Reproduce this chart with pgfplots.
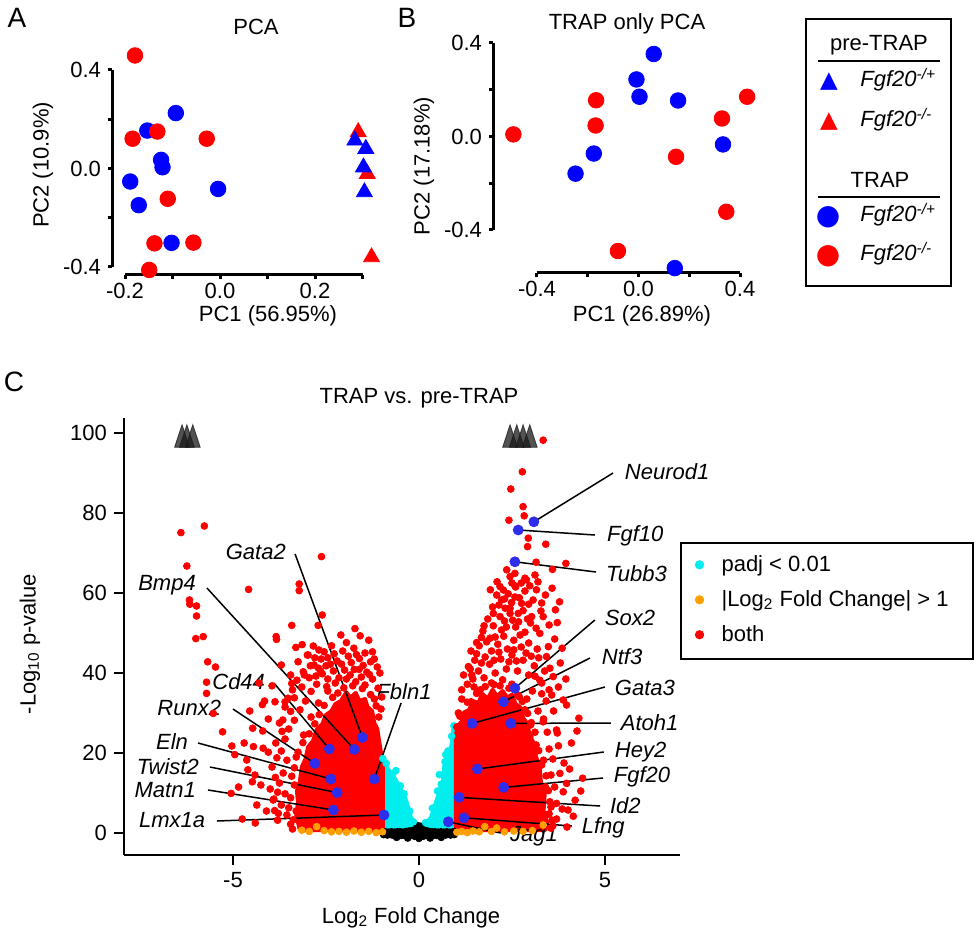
\documentclass[border=0pt]{standalone}
\usepackage{pgfplots}
\pgfplotsset{compat=1.18}
\usepackage{fontspec}
\setmainfont{Liberation Sans}
\newfontfamily\dejavu{DejaVu Sans}
\definecolor{mred}{RGB}{255,0,0}
\definecolor{mblue}{RGB}{0,0,255}
\definecolor{vblue}{RGB}{45,45,235}
\definecolor{mcyan}{RGB}{0,238,238}
\definecolor{morange}{RGB}{255,160,0}
\newcommand\fs{\fontsize{11}{13}\selectfont}
\pgfplotsset{axl/.style={black, line width=1.5pt, no marks, forget plot}}
\begin{document}
\begin{tikzpicture}
\path[use as bounding box] (0pt,0pt) rectangle (488.5pt,-470pt);

% ---------------- Panel A ----------------
\begin{axis}[at={(56pt,-137.5pt)}, anchor=south west, scale only axis,
  width=125.25pt, height=102.5pt,
  xmin=-0.22737, xmax=0.3, ymin=-0.43252, ymax=0.4,
  axis lines*=left, axis line style={draw=none},
  xtick={-0.2,0,0.2}, xticklabels={-0.2,0.0,0.2},
  ytick={-0.4,0,0.4}, yticklabels={-0.4,0.0,0.4},
  tick align=outside, major tick length=2pt, tick style={draw=none},
  tick label style={font=\fs}, xticklabel style={inner sep=2pt}, clip=false]
% axis lines and ticks
\addplot[axl] coordinates {(-0.22737,-0.4) (-0.22737,0.4)};
\addplot[axl] coordinates {(-0.2,-0.43252) (0.3,-0.43252)};
\addplot[axl] coordinates {(-0.22737,-0.4) (-0.2358,-0.4)};
\addplot[axl] coordinates {(-0.22737,-0.2) (-0.2358,-0.2)};
\addplot[axl] coordinates {(-0.22737,0) (-0.2358,0)};
\addplot[axl] coordinates {(-0.22737,0.2) (-0.2358,0.2)};
\addplot[axl] coordinates {(-0.22737,0.4) (-0.2358,0.4)};
\addplot[axl] coordinates {(-0.2,-0.43252) (-0.2,-0.4488)};
\addplot[axl] coordinates {(-0.1,-0.43252) (-0.1,-0.4488)};
\addplot[axl] coordinates {(0,-0.43252) (0,-0.4488)};
\addplot[axl] coordinates {(0.1,-0.43252) (0.1,-0.4488)};
\addplot[axl] coordinates {(0.2,-0.43252) (0.2,-0.4488)};
\addplot[axl] coordinates {(0.3,-0.43252) (0.3,-0.4488)};
% data
\addplot[only marks, mark=*, mark size=3.9pt, color=mblue] coordinates {
(-0.093,0.225) (-0.153,0.154) (-0.124,0.035) (-0.121,0.005) (-0.189,-0.053) (-0.171,-0.149) (-0.004,-0.083) (-0.102,-0.302)};
\addplot[only marks, mark=*, mark size=3.9pt, color=mred] coordinates {
(-0.179,0.459) (-0.184,0.121) (-0.132,0.150) (-0.028,0.121) (-0.110,-0.123) (-0.138,-0.304) (-0.056,-0.301) (-0.149,-0.412)};
\addplot[only marks, mark=triangle*, mark size=4.6pt, color=mred] coordinates {
(0.291,0.148) (0.310,-0.022) (0.319,-0.360)};
\addplot[only marks, mark=triangle*, mark size=4.6pt, color=mblue] coordinates {
(0.284,0.114) (0.307,0.080) (0.302,0.005) (0.304,-0.096)};
\end{axis}

% ---------------- Panel B ----------------
\begin{axis}[at={(246.5pt,-136.5pt)}, anchor=south west, scale only axis,
  width=123.5pt, height=115pt,
  xmin=-0.57323, xmax=0.4, ymin=-0.58396, ymax=0.4,
  axis lines*=left, axis line style={draw=none},
  xtick={-0.4,0,0.4}, xticklabels={-0.4,0.0,0.4},
  ytick={-0.4,0,0.4}, yticklabels={-0.4,0.0,0.4},
  tick align=outside, major tick length=2pt, tick style={draw=none},
  tick label style={font=\fs}, xticklabel style={inner sep=2pt}, clip=false]
\addplot[axl] coordinates {(-0.57323,-0.4) (-0.57323,0.4)};
\addplot[axl] coordinates {(-0.4,-0.58396) (0.4,-0.58396)};
\addplot[axl] coordinates {(-0.57323,-0.4) (-0.589,-0.4)};
\addplot[axl] coordinates {(-0.57323,-0.2) (-0.589,-0.2)};
\addplot[axl] coordinates {(-0.57323,0) (-0.589,0)};
\addplot[axl] coordinates {(-0.57323,0.2) (-0.589,0.2)};
\addplot[axl] coordinates {(-0.57323,0.4) (-0.589,0.4)};
\addplot[axl] coordinates {(-0.4,-0.58396) (-0.4,-0.6011)};
\addplot[axl] coordinates {(-0.2,-0.58396) (-0.2,-0.6011)};
\addplot[axl] coordinates {(0,-0.58396) (0,-0.6011)};
\addplot[axl] coordinates {(0.2,-0.58396) (0.2,-0.6011)};
\addplot[axl] coordinates {(0.4,-0.58396) (0.4,-0.6011)};
\addplot[only marks, mark=*, mark size=3.9pt, color=mblue] coordinates {
(0.060,0.353) (-0.008,0.244) (0.004,0.170) (0.156,0.154) (0.333,-0.034) (-0.176,-0.073) (-0.248,-0.159) (0.143,-0.563)};
\addplot[only marks, mark=*, mark size=3.9pt, color=mred] coordinates {
(-0.493,0.009) (-0.167,0.155) (-0.169,0.047) (0.148,-0.087) (0.329,0.077) (0.346,-0.322) (-0.081,-0.490) (0.428,0.170)};
\end{axis}

% ---------------- Panel C ----------------
\begin{axis}[at={(62pt,-427.5pt)}, anchor=south west, scale only axis,
  width=278pt, height=218.5pt,
  xmin=-7.93, xmax=7.02, ymin=-5.5, ymax=103.75,
  axis lines*=left, axis line style={line width=0.9pt},
  tick style={black,line width=0.9pt}, tick align=outside, major tick length=5pt,
  xtick={-5,0,5}, xticklabels={-5,0,5},
  ytick={0,20,40,60,80,100}, yticklabels={0,20,40,60,80,100},
  tick label style={font=\fs}, clip=false,
  legend style={at={(1.002,0.714)}, anchor=north west, draw=none, fill=none,
    font=\fs, row sep=4pt, inner xsep=2pt, inner ysep=4pt},
  legend image code/.code={\path[draw=none,fill=none] (0pt,0pt) -- (16pt,0pt); \draw[#1] plot coordinates {(7pt,0pt)};},
  legend cell align=left]
\addlegendimage{only marks, mark=*, mark size=2.1pt, color=mcyan}
\addlegendentry{padj < 0.01}
\addlegendimage{only marks, mark=*, mark size=2.1pt, color=morange}
\addlegendentry{|Log\textsubscript{2} Fold Change| > 1}
\addlegendimage{only marks, mark=*, mark size=2.1pt, color=mred}
\addlegendentry{both}

% black (not significant)
\addplot[only marks, mark=*, mark size=1.7pt, color=black, forget plot] coordinates {
(-0.98,0.3) (-0.9,0.3) (-0.82,0.2) (-0.74,0.3) (-0.66,0.2) (-0.58,0.3) (-0.5,0.3) (-0.42,0.2) (-0.34,0.4) (-0.26,0.5) (-0.18,0.6) (-0.1,0.8) (-0.03,1.0) (0.04,0.9) (0.11,0.7) (0.19,0.6) (0.27,0.4) (0.35,0.3) (0.43,0.3) (0.51,0.2) (0.59,0.3) (0.67,0.2) (0.75,0.3) (0.83,0.2) (0.91,0.3) (0.98,0.3)
(-0.95,-0.4) (-0.85,-0.5) (-0.72,-0.5) (-0.6,-0.6) (-0.48,-0.6) (-0.36,-0.7) (-0.24,-0.7) (-0.12,-0.8) (0,-0.8) (0.12,-0.8) (0.24,-0.7) (0.36,-0.7) (0.48,-0.6) (0.6,-0.6) (0.72,-0.5) (0.85,-0.5) (0.95,-0.4)
(-0.6,-1.1) (-0.3,-1.25) (0,-1.35) (0.3,-1.25) (0.6,-1.1)
(0,1.4) (-0.05,1.9) (0.05,1.7)};

% cyan (padj only)
\addplot[fill=mcyan, draw=mcyan, line width=1pt, line join=round, forget plot] coordinates {
(0,0.8) (-0.19,4) (-0.32,8.25) (-0.59,13.25) (-0.8,16) (-0.95,18) (-1.0,17.5) (-1.0,0.8)} -- cycle;
\addplot[fill=mcyan, draw=mcyan, line width=1pt, line join=round, forget plot] coordinates {
(0,0.8) (0.3,4) (0.45,8.25) (0.62,13.25) (0.65,16.5) (0.85,22) (0.9,26) (1.0,26) (1.0,0.8)} -- cycle;
\addplot[only marks, mark=*, mark size=1.7pt, color=mcyan, forget plot] coordinates {
(-0.25,5.5) (-0.4,9.8) (-0.5,11.8) (-0.7,14.8) (-0.88,17.4) (-0.15,2.8) (-0.97,18.6) (-0.62,15.6)
(0.18,2.6) (0.36,6.2) (0.5,10.5) (0.6,12.2) (0.7,17.8) (0.78,20.5) (0.88,24.2) (0.94,26.8) (0.55,14.6) (0.72,19.6)};

% orange (fold change only)
\addplot[only marks, mark=*, mark size=1.7pt, color=morange, forget plot] coordinates {
(-0.98,0.3) (-1.15,0.1) (-1.35,0.4) (-1.55,0.2) (-1.75,0.5) (-1.95,0.2) (-2.15,0.4) (-2.35,0.3) (-2.55,0.6) (-2.75,1.6) (-2.95,0.4) (-3.15,0.7)
(1.02,0.2) (1.15,0.4) (1.3,0.1) (1.45,0.5) (1.62,0.3) (1.77,1.6) (1.95,0.4) (2.09,1.25) (2.3,0.3) (2.55,0.5) (2.8,0.4) (3.05,0.6) (3.34,2.0)};

% red (both): dense cores
\addplot[fill=mred, draw=mred, line width=2pt, line join=round, forget plot] coordinates {
(-0.97,0.75) (-0.97,17) (-1.02,20) (-1.08,23.5) (-1.12,26) (-1.2,27.5) (-1.26,30.5) (-1.38,31.5) (-1.45,33.5) (-1.6,33) (-1.7,35) (-1.85,33.8) (-1.95,35.2) (-2.1,33) (-2.25,32.2) (-2.35,30.5) (-2.5,29.5) (-2.6,27.2) (-2.75,25.8) (-2.85,23) (-2.98,21.5) (-3.05,18.5) (-3.15,16.5) (-3.2,13) (-3.28,10.5) (-3.25,7.5) (-3.3,4.5) (-3.2,0.75)} -- cycle;
\addplot[fill=mred, draw=mred, line width=2pt, line join=round, forget plot] coordinates {
(0.99,0.75) (0.99,24.5) (1.06,27) (1.15,27.8) (1.22,30.2) (1.35,30.8) (1.45,33) (1.6,32.5) (1.7,34.8) (1.85,33.6) (1.98,35.8) (2.1,34.2) (2.25,35.5) (2.38,33.8) (2.5,34.6) (2.6,32.2) (2.72,31.5) (2.8,28.8) (2.9,27.5) (2.98,24.5) (3.08,22.5) (3.15,19) (3.25,16.5) (3.28,12.5) (3.38,9.5) (3.35,5.5) (3.45,2.5) (3.4,0.75)} -- cycle;
% red (both): individual genes
\addplot[only marks, mark=*, mark size=1.7pt, color=mred, forget plot] coordinates {
(-6.40,75.1) (-5.77,76.75) (-6.24,66.75) (-4.58,60.9) (-2.62,69.1) (-3.22,62.25) (-3.22,60.6) (-6.17,58.25) (-6.16,57.2) (-5.98,56.75) (-5.98,54.25) (-2.60,54.5) (-2.71,51.9) (-1.72,51.1) (-3.42,51.9) (-6.00,48.6) (-5.80,49.1) (-3.84,49.1) (-3.83,48.4) (-3.31,46.4) (-3.14,47.1) (-2.84,46.75) (-2.69,45.75) (-2.98,44.5) (-2.63,43.5) (-5.68,42.8) (-5.47,41.5) (-5.71,37.7) (-5.71,34.9) (-3.11,40.3) (-2.77,39.25) (-2.00,40.75) (-1.74,40.9) (-1.61,40.9) (-2.48,36.6) (-3.42,37.4) (-5.53,29.9) (-5.28,25.3) (-5.05,9.9) (-4.21,32.1) (-4.47,26.2) (-5.03,21.75) (-4.95,19.6) (-4.45,21.6) (-4.19,21.2) (-4.41,14.5) (-3.92,8.25) (-4.36,7.0) (-3.78,4.9) (-3.60,32.8) (-3.87,32.8) (-3.66,28.25) (-4.63,18.25) (-4.48,12.8)
(-1.25,38.5) (-1.4,40.2) (-1.55,39) (-1.85,39.5) (-2.15,38.8) (-2.3,40.5) (-2.45,38.5) (-1.3,42.8) (-1.6,43.6) (-1.9,44.2) (-2.2,43) (-2.5,41.8) (-1.1,36.2) (-1.75,46.2) (-2.05,45.5) (-2.35,46.8) (-1.45,45) (-2.6,39.8) (-2.75,37.2) (-2.9,35.4) (-3.05,33) (-3.2,30.8) (-3.35,28.2) (-3.5,26) (-3.6,23.5) (-3.7,20.5) (-3.55,18.2) (-3.65,15) (-3.75,12.5) (-3.6,9.8) (-3.7,7) (-3.55,4.5) (-3.45,2.2) (-3.8,3.2) (-3.9,8.5) (-3.95,16.5) (-3.85,22.5) (-3.75,27.5) (-3.6,31.5) (-3.35,33.8) (-3.15,36.5) (-2.95,38.8) (-2.7,41.2) (-2.45,43.8) (-2.1,49.5) (-1.35,48.2) (-1.2,43.5) (-1.05,40) (-1.0,34) (-1.02,31)
(-4.1,5.5) (-4.25,12) (-4.05,20.2) (-4.2,25.5) (-4.15,33) (-4.3,37.5) (-4.55,30.5) (-4.7,22.5) (-4.85,11.5) (-4.6,15.8) (-4.75,3.5) (-4.4,2.5) (-4.0,11) (-4.05,28.5) (-3.95,36.8) (-3.7,42) (-3.45,39.5) (-3.25,42.8) (-3.0,44.5) (-2.8,43.8)
(-3.4,1.0) (-3.3,5.5) (-3.35,12) (-3.3,19) (-3.1,24.5) (-2.9,29) (-2.7,32.5) (-2.45,35.5) (-2.25,37.5) (-1.95,38.5) (-1.7,37.8) (-1.45,37) (-1.2,33.5) (-1.08,29)
(-1.33,39.6) (-1.5,41.9) (-1.68,44.6) (-1.82,42.6) (-2.08,42.2) (-2.28,44.8) (-2.38,42.2) (-2.55,45.3) (-2.65,40.6) (-2.82,42) (-1.95,47.6) (-1.58,49.3) (-1.25,45.3) (-1.12,41.5) (-2.92,41.8) (-3.08,39.5) (-3.28,38.2) (-3.4,35.8) (-3.52,33.7) (-3.45,30.4) (-3.68,25.4) (-3.82,18.8) (-3.86,13.9) (-3.8,10.2) (-3.88,5.6)
(-1.15,31.8) (-1.3,34.6) (-1.52,36.1) (-1.78,36.8) (-2.02,36.3) (-2.18,35) (-2.32,33.9) (-2.55,31.9) (-2.68,29.6) (-2.8,27.3) (-2.95,24.8) (-3.12,22.6) (-3.25,20.2) (-3.35,16.3) (-3.42,14.2) (-3.45,8.8) (-3.5,6.3) (-3.38,3.3)
(3.34,98.2) (2.78,90.3) (2.47,86) (2.80,81.6) (2.83,79.3) (2.42,78.2) (2.94,73.7) (3.41,72.2) (2.92,71.6) (3.95,67.4) (3.15,67.7) (3.59,65.9) (2.36,65.8) (2.89,63.3) (2.58,61.8) (3.16,60.8) (2.09,59.5) (3.67,55.8) (1.55,47.6) (1.15,35.8)
(1.33,41.6) (1.42,39.5) (1.91,48.7) (2.0,54.9) (2.18,54.1) (2.22,50.75) (2.45,54.9) (2.67,54.9) (3.03,54.1) (3.34,54.1) (3.07,58.25) (2.76,57.4) (2.49,57.6) (2.22,58.25) (2.27,60.75) (2.45,64.1) (2.58,64.9) (2.85,63.7) (3.12,64.5) (2.18,61.6) (3.25,49.9) (3.48,46.6) (3.43,44.1) (3.61,39.1) (3.57,34.5) (3.88,33.25) (3.97,32) (4.3,28.7) (3.7,25.75) (3.72,25) (3.34,27.8) (2.98,24.1) (3.79,14.9) (4.4,13.7) (3.97,12.4) (3.88,10.3) (4.2,8.2) (3.70,7.4) (3.43,4.5) (4.01,5.75)
(1.3,37.2) (1.45,38.5) (1.6,40.5) (1.75,38.8) (1.9,42.2) (2.05,40) (2.2,43.5) (2.35,41) (2.5,44.5) (2.65,40.5) (2.8,43.2) (2.95,39.5) (3.1,41.8) (3.25,38.2) (3.05,35.5) (2.9,33.5) (3.2,30.5) (3.35,28.5) (3.45,25.2) (3.5,21) (3.6,18.5) (3.55,14.5) (3.65,11.5) (3.55,6.5) (3.7,3.5) (3.6,1.8) (3.85,6) (3.9,17.5) (3.75,21.8) (3.62,30.5) (3.5,35.8) (3.3,37.5) (3.18,46) (2.95,47.5) (2.75,46.5) (2.55,48.2) (2.38,46) (2.12,47.2) (1.95,45.5) (1.78,44) (1.62,46.8) (1.5,43.2) (1.38,41) (1.2,39.5) (1.15,33.5) (1.06,30) (1.72,50.5) (2.0,51.8) (2.3,53) (2.6,51.5) (2.85,50.2) (3.0,52.5) (2.45,56.2) (2.7,58.8) (2.95,57.2) (2.15,57) (1.85,53.5) (2.6,61.5) (2.4,59.8) (2.85,60.5) (3.3,57.5) (3.5,52) (3.65,48.5) (3.8,42.5) (3.95,38.5) (4.1,22.5) (4.05,16) (4.15,4.2) (3.98,1.5) (4.35,10.5) (4.25,25.5)
(1.02,26.5) (1.2,29.5) (1.4,32.8) (1.65,35.8) (1.95,37.5) (2.25,38.3) (2.5,37.2) (2.7,34) (2.85,30.8) (3.0,27) (3.15,22) (3.3,17) (3.4,11.5) (3.5,4.8) (3.55,1.2)
(1.1,29.2) (1.3,32.7) (1.55,34.9) (1.78,36.6) (2.02,37.1) (2.18,36.8) (2.42,36.2) (2.65,34.5) (2.78,32.9) (2.92,29.9) (3.02,27.6) (3.12,25.2) (3.22,20.6) (3.35,18.2) (3.42,14.3) (3.48,10.6) (3.52,7.8) (3.58,3.2)
(1.48,36.5) (1.68,42.5) (1.82,47.8) (2.02,43.2) (2.15,45.2) (2.28,49.2) (2.42,42.8) (2.55,45.8) (2.62,43) (2.72,49.5) (2.88,45) (3.02,44.2) (3.12,39.2) (3.22,43.8) (3.38,40.5) (2.35,51.5) (2.52,53.2) (2.68,52.8) (2.8,55.6) (2.92,53.5) (3.15,51.2) (3.28,55.5) (2.05,49) (2.32,56.2) (2.58,59) (2.75,62.5) (2.98,61.8) (3.2,62.8) (2.5,62.5) (2.3,58.5) (1.98,56.5) (1.75,51.8) (1.55,44.8) (1.68,48.9) (1.4,45.5) (3.4,59.5) (3.58,61.2) (3.78,57.8) (3.72,52.6) (3.85,46.2) (3.42,33) (3.75,36.5) (3.3,34.8) (3.52,41.2) (2.1,62.8) (1.92,60.8)};

% off-scale genes (capped)
\addplot[only marks, mark=triangle*, mark size=4.3pt, color=black!90, opacity=0.75,
  mark options={yscale=1.75}, forget plot] coordinates {
(-6.37,98.3) (-6.24,98.3) (-6.08,98.3) (2.45,98.3) (2.63,98.3) (2.80,98.3) (2.98,98.3)};

% label leader lines
\begin{scope}[line width=0.75pt, black]
\draw (axis cs:3.09,77.8) -- (axis cs:5.22,90);
\draw (axis cs:2.67,75.75) -- (axis cs:4.73,74.5);
\draw (axis cs:2.58,67.8) -- (axis cs:4.76,65.25);
\draw (axis cs:2.58,36.2) -- (axis cs:4.73,53.25);
\draw (axis cs:2.27,32.8) -- (axis cs:4.60,43.75);
\draw (axis cs:1.43,27.4) -- (axis cs:5.0,36.5);
\draw (axis cs:2.47,27.4) -- (axis cs:5.16,27.5);
\draw (axis cs:1.57,16) -- (axis cs:4.97,20.25);
\draw (axis cs:2.28,11.4) -- (axis cs:4.95,13.75);
\draw (axis cs:1.08,8.9) -- (axis cs:4.87,6.75);
\draw (axis cs:1.21,3.8) -- (axis cs:4.11,1.75);
\draw (axis cs:0.79,2.8) -- (axis cs:2.2,0);
\draw (axis cs:-1.52,23.9) -- (axis cs:-3.33,69.75);
\draw (axis cs:-1.74,20.9) -- (axis cs:-5.70,61.25);
\draw (axis cs:-2.41,21) -- (axis cs:-3.90,37.5);
\draw (axis cs:-2.80,17.4) -- (axis cs:-5.0,31);
\draw (axis cs:-1.20,13.5) -- (axis cs:-0.48,32.5);
\draw (axis cs:-2.37,13.5) -- (axis cs:-5.94,22.5);
\draw (axis cs:-2.20,10.1) -- (axis cs:-5.62,16.5);
\draw (axis cs:-2.30,5.75) -- (axis cs:-5.67,10.75);
\draw (axis cs:-0.94,4.5) -- (axis cs:-5.43,3);
\end{scope}

% highlighted genes
\addplot[only marks, mark=*, mark size=2.5pt, color=vblue, forget plot] coordinates {
(3.09,77.8) (2.67,75.75) (2.58,67.8) (2.58,36.2) (2.27,32.8) (1.43,27.4) (2.47,27.4) (1.57,16) (2.28,11.4) (1.08,8.9) (1.21,3.8) (0.79,2.8)
(-1.52,23.9) (-1.74,20.9) (-2.41,21) (-2.80,17.4) (-1.20,13.5) (-2.37,13.5) (-2.20,10.1) (-2.30,5.75) (-0.94,4.5)};

\begin{scope}[font=\fs\itshape]
\node[anchor=west] at (axis cs:5.35,90.25) {Neurod1};
\node[anchor=west] at (axis cs:4.87,74.25) {Fgf10};
\node[anchor=west] at (axis cs:4.84,64.75) {Tubb3};
\node[anchor=west] at (axis cs:4.81,53.75) {Sox2};
\node[anchor=west] at (axis cs:4.73,44) {Ntf3};
\node[anchor=west] at (axis cs:5.08,36.25) {Gata3};
\node[anchor=west] at (axis cs:5.24,27.5) {Atoh1};
\node[anchor=west] at (axis cs:5.08,20.25) {Hey2};
\node[anchor=west] at (axis cs:5.05,14) {Fgf20};
\node[anchor=west] at (axis cs:4.95,6.75) {Id2};
\node[anchor=west] at (axis cs:4.19,1.25) {Lfng};
\node[anchor=west] at (axis cs:2.26,-0.75) {Jag1};
\node[anchor=east] at (axis cs:-3.39,70.25) {Gata2};
\node[anchor=east] at (axis cs:-5.81,62) {Bmp4};
\node[anchor=east] at (axis cs:-3.95,37.75) {Cd44};
\node[anchor=east] at (axis cs:-5.13,31.25) {Runx2};
\node at (axis cs:-0.40,35.25) {Fbln1};
\node[anchor=east] at (axis cs:-6.02,22.75) {Eln};
\node[anchor=east] at (axis cs:-5.73,16.5) {Twist2};
\node[anchor=east] at (axis cs:-5.81,10.75) {Matn1};
\node[anchor=east] at (axis cs:-5.56,3.25) {Lmx1a};
\end{scope}
\end{axis}

% ---------------- texts and legend ----------------
\begin{scope}[x=0.5pt, y=-0.5pt]
\node[font=\fontsize{14}{16}\selectfont] at (17,18) {A};
\node[font=\fontsize{14}{16}\selectfont] at (407,18) {B};
\node[font=\fontsize{14}{16}\selectfont] at (14,382) {C};
\node[font=\fs] at (256,27) {PCA};
\node[font=\fs] at (627,24) {TRAP only PCA};
\node[font=\fs] at (268,316) {PC1 (56.95\%)};
\node[font=\fs] at (642,316) {PC1 (26.89\%)};
\node[font=\fs, rotate=90] at (43,165) {PC2 (10.9\%)};
\node[font=\fs, rotate=90] at (424,166) {PC2 (17.18\%)};
\node[font=\fs] at (419,398) {TRAP vs. pre-TRAP};
\node[font=\fs, rotate=90] at (30,644) {-Log\textsubscript{10} p-value};
\node[font=\fs] at (411,918) {Log\textsubscript{2} Fold Change};

\draw[line width=0.9pt] (681,543) rectangle (973,659);

\draw[line width=1pt] (806,19) rectangle (951,286);
\node[font=\fs, anchor=base] at (879,51) {pre-TRAP};
\draw[line width=1pt] (818,61) -- (940,61);
\node[font=\fs, anchor=base] at (880,188) {TRAP};
\draw[line width=1pt] (818,197) -- (940,197);
\node[text=mblue, font=\dejavu\fontsize{11.5}{12}\selectfont, inner sep=0pt] at (829,82) {▲};
\node[text=mred, font=\dejavu\fontsize{11.5}{12}\selectfont, inner sep=0pt] at (829,122) {▲};
\node[text=mblue, font=\dejavu\fontsize{14}{14}\selectfont, inner sep=0pt] at (828,217) {●};
\node[text=mred, font=\dejavu\fontsize{14}{14}\selectfont, inner sep=0pt] at (828,256) {●};
\node[font=\fs, anchor=base west, inner sep=0pt] at (860,87) {\textit{Fgf20}\textsuperscript{\textit{-/+}}};
\node[font=\fs, anchor=base west, inner sep=0pt] at (860,127) {\textit{Fgf20}\textsuperscript{\textit{-/-}}};
\node[font=\fs, anchor=base west, inner sep=0pt] at (860,222) {\textit{Fgf20}\textsuperscript{\textit{-/+}}};
\node[font=\fs, anchor=base west, inner sep=0pt] at (860,261) {\textit{Fgf20}\textsuperscript{\textit{-/-}}};
\end{scope}
\end{tikzpicture}
\end{document}
